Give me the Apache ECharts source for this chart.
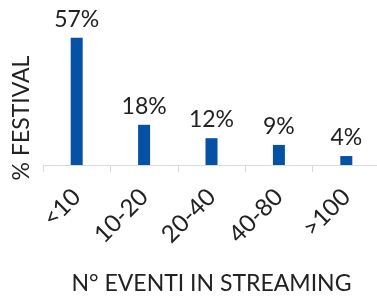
<!DOCTYPE html>
<html>
<head>
<meta charset="utf-8">
<script src="https://cdn.jsdelivr.net/npm/echarts@6/dist/echarts.min.js"></script>
<style>
  html, body { margin: 0; padding: 0; background: #fff; }
  #chart { width: 377px; height: 297px; }
</style>
</head>
<body>
<div id="chart"></div>
<script>
// data
const categories = ['<10', '10-20', '20-40', '40-80', '>100'];
const shares = [57, 18, 12, 9, 4];

const FONT = 'Lato';
const chart = echarts.init(document.getElementById('chart'));

chart.setOption({
  backgroundColor: '#fff',
  animation: false,
  textStyle: { fontFamily: FONT },
  grid: { left: 43, top: 31, width: 337, height: 134, containLabel: false, outerBoundsMode: 'none' },
  xAxis: {
    type: 'category',
    data: categories,
    name: 'N° EVENTI IN STREAMING',
    nameLocation: 'middle',
    nameGap: 107,
    nameTextStyle: { fontSize: 23, color: '#222', fontFamily: FONT },
    axisLine: { lineStyle: { color: '#d9d9d9', width: 1 } },
    axisTick: { show: true, length: 7, lineStyle: { color: '#d9d9d9' } },
    axisLabel: { rotate: 45, margin: 28, fontSize: 24, color: '#222', fontFamily: FONT }
  },
  yAxis: {
    type: 'value',
    min: 0,
    max: 60,
    name: '% FESTIVAL',
    nameLocation: 'middle',
    nameGap: 10,
    nameTextStyle: { fontSize: 23, color: '#222', fontFamily: FONT, padding: [0, 40, 0, 0] },
    axisLine: { show: false },
    axisTick: { show: false },
    axisLabel: { show: false },
    splitLine: { show: false }
  },
  series: [{
    type: 'bar',
    data: shares,
    barWidth: 12,
    itemStyle: { color: '#0451a5' },
    label: {
      show: true,
      position: 'top',
      distance: 7,
      formatter: p => p.value + '%',
      fontSize: 23,
      color: '#222',
      fontFamily: FONT
    }
  }]
});
</script>
</body>
</html>
